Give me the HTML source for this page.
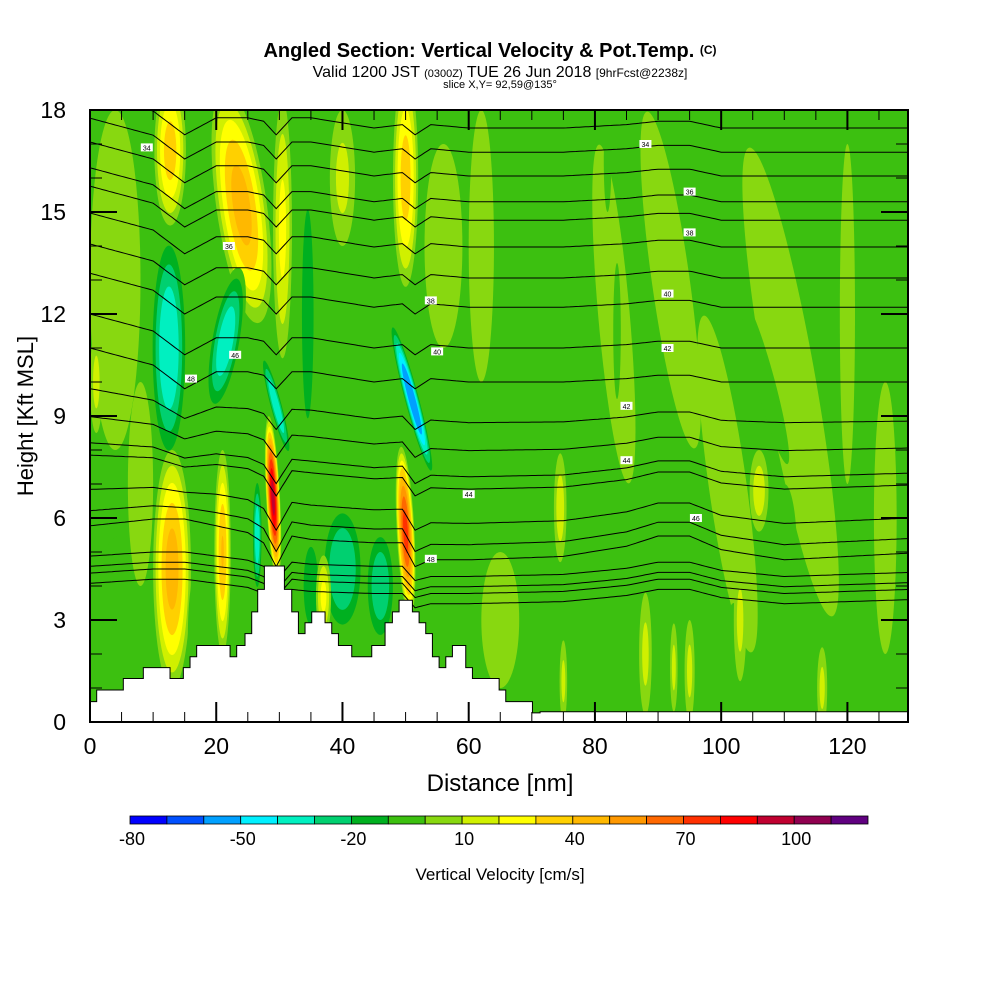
<!DOCTYPE html>
<html><head><meta charset="utf-8"><style>
body{margin:0;background:#fff;width:1000px;height:1000px;overflow:hidden;font-family:"Liberation Sans",sans-serif}
svg text{font-family:"Liberation Sans",sans-serif}
</style></head><body>
<svg id="chart" width="1000" height="1000" viewBox="0 0 1000 1000">
<defs><clipPath id="pc"><rect x="90" y="110" width="818" height="612"/></clipPath></defs>
<text x="490" y="57" text-anchor="middle" font-size="20" font-weight="bold">Angled Section: Vertical Velocity &amp; Pot.Temp. <tspan font-size="12" dy="-3">(C)</tspan></text>
<text x="500" y="77" text-anchor="middle" font-size="16">Valid 1200 JST <tspan font-size="11">(0300Z)</tspan> TUE 26 Jun 2018 <tspan font-size="12">[9hrFcst@2238z]</tspan></text>
<text x="500" y="88" text-anchor="middle" font-size="11">slice X,Y= 92,59@135°</text>
<g id="field" clip-path="url(#pc)"></g>
<g id="lines" clip-path="url(#pc)" fill="none" stroke="#000" stroke-width="1"></g>
<g id="terrain"></g>
<g id="labels"></g>
<g id="axes"></g>
<text x="500" y="791" text-anchor="middle" font-size="24">Distance [nm]</text>
<text transform="translate(33,416) rotate(-90)" text-anchor="middle" font-size="22">Height [Kft MSL]</text>
<g id="cbar"></g>
<text x="500" y="880" text-anchor="middle" font-size="17">Vertical Velocity [cm/s]</text>
</svg>
<script>
// ---- data ----
const xTicks=[0,20,40,60,80,100,120];
const yTicks=[0,3,6,9,12,15,18];
const cbarLabels=[-80,-50,-20,10,40,70,100];
const cbarColors=["#0000ff","#0050ff","#00a0ff","#00f0ff","#00f0c0","#00d070","#00b020","#3cc010","#88d810","#d0f000","#ffff00","#ffd000","#ffb800","#ff9800","#ff6800","#ff3000","#ff0000","#c00030","#900050","#600080"];
// terrain steps: start nm of each step and height kft
const terrStart=[0,1.06,5.28,8.45,12.68,14.79,15.85,16.9,22.19,23.24,24.56,25.62,26.57,27.63,30.8,31.96,33.02,34.07,35.13,37.24,38.3,39.36,41.47,44.64,46.75,47.91,48.97,51.08,52.14,53.19,54.25,55.31,56.37,57.42,59.53,60.59,64.82,65.87,70.1,71.31];
const terrHgt=[0.6,0.94,1.28,1.6,1.28,1.6,1.92,2.25,1.92,2.25,2.6,3.24,3.9,4.59,3.9,3.24,2.6,2.92,3.24,2.92,2.6,2.25,1.92,2.25,2.92,3.24,3.58,3.24,2.92,2.6,1.92,1.6,1.92,2.25,1.6,1.28,0.94,0.6,0.27,0.3];
// blobs: x nm, y kft, rx nm, ry kft, peak cm/s, tilt deg
const blobX=  [5,  45, 60, 70, 4,  56, 40, 40, 46, 35, 12.5,21.5,29.5,26.5,51, 34.5,107,82, 102,122,17, 12.7,24, 30.5,13, 21, 29, 50, 50, 37, 1,  106,74.5,83, 92, 101,111,120,126,88, 95, 103,116,75, 92.5,83.5,65, 110, 62, 8];
const blobY=  [2.5,11, 9,  11, 13, 14, 16, 4.5,4,  4,  11, 11.2,9.3, 5.5, 9.5,12, 10, 16.5,2, 3,  2.5,16.8,15.2,14.5,4.5,5,  6.6,5.6,16, 3.7,10, 6.8,6.3, 12, 13, 7,  10, 12, 6,  2,  1.5,3,  1,  1.2,1.6, 11.5,3,  5,   14, 7];
const blobRX= [5,  4,  3,  2,  4,  3,  2,  3.5,2.5,1.5,3,   2.5, 1,  0.8, 1.2,1.2,1.5,0.6,1.5,1,  1.5,2.5, 4,  1.5, 3,  1.3,1.1,1.4,2,  1.2,1,  1.5,1,   2.5,3,  3,  4,  1.2,1.8,1,  0.8,1,  0.8,0.6,0.6, 0.6, 3,  2,   2,  2];
const blobRY= [3,  3,  4,  3,  5,  3,  2,  2,  1.8,1.5,3.5, 2.2, 1.6,1.8, 2.4,4,  2.5,1.5,1.5,2,  2,  2.2, 3.5,3.8, 3.5,3,  2.4,2.5,3.2,1.2,1.5,1.2,1.6, 5,  5,  5,  7,  5,  4,  1.8,1.5,1.8,1.2,1.2,1.3, 2,   2,  2,   4,  3];
const blobV=  [-15,-15,-15,-15,5,  5,  15, -35,-32,-28,-45, -42, -45,-42, -68,-28,-18,-15,-15,-15,-15,38,  48, 25,  48, 42, 98, 78, 38, 25, 15, 18, 18,  5,  5,  5,  5,  5,  5,  15, 15, 15, 15, 15, 15,  -15, 5,  -15, 5,  5];
const blobT=  [0,  0,  0,  0,  0,  0,  0,  0,  0,  0,  0,   10,  -15,0,   -15,0,  -15,0,  0,  0,  0,  0,   -8, 0,   0,  0,  -3, -3, 0,  0,  0,  0,  0,   -5, -8, -8, -10,0,  0,  0,  0,  0,  0,  0,  0,   0,   0,  0,   0,  0];
// potential temperature lines: heights (kft) at right edge
const thetaLevels=[3.6,3.9,4.1,4.4,4.97,5.4,6.0,6.97,7.32,8.06,8.85,10.0,11.0,12.2,13.06,13.97,14.76,15.3,16.06,16.76,17.47,18.2,18.9];
const dispX=   [0,  10, 15,  20, 25, 27.5,29.5,32, 35, 45, 49.5,51.5,54,  60,  75, 85, 90, 95, 100,110,130];
const dispHigh=[1.0,0.5,-0.2,0.3,0.3,0.2, -0.2,0.3,0.3,0.0,0.1, -0.2,0.1, 0.0, 0.0,0.1,0.2,0.2,0.0,0.0,0.0];
const dispLow= [0.8,1.0,1.0, 0.8,0.6,0.3, -0.4,0.5,0.4,0.3,0.3, -0.4,-0.2,-0.2,-0.1,0.2,0.5,0.5,0.1,-0.2,0.0];
const labelVals=["34","36","38","40","42","44","46","48"];

// ---- axes functions ----
const X0=90,X1=908,Y0=722,Y1=110,NMAX=129.6,KMAX=18;
const sx=n=>X0+n*(X1-X0)/NMAX;
const sy=k=>Y0-k*(Y0-Y1)/KMAX;
const NS="http://www.w3.org/2000/svg";
function mk(t,a,p){const e=document.createElementNS(NS,t);for(const k in a)e.setAttribute(k,a[k]);p.appendChild(e);return e;}
function colorFor(v){let i=Math.floor((v+80)/10);i=Math.max(0,Math.min(19,i));return cbarColors[i];}

// ---- field ----
const field=document.getElementById('field');
const bg=mk('rect',{x:X0,y:Y1,width:X1-X0,height:Y0-Y1,fill:colorFor(-5)},field);


const order=blobX.map((_,i)=>i).sort((a,b)=>blobRX[b]*blobRY[b]-blobRX[a]*blobRY[a]);
order.forEach(i=>{
  const v=blobV[i];const cx=sx(blobX[i]),cy=sy(blobY[i]);
  const rx=blobRX[i]*(X1-X0)/NMAX, ry=blobRY[i]*(Y0-Y1)/KMAX;
  const g=mk('g',{transform:`rotate(${blobT[i]} ${cx} ${cy})`},field);
  
  
  const levels=[];
  if(v>0){for(let l=0;l<v;l+=10)levels.push(l);}else{for(let l=-10;l>=v;l-=10)levels.push(l);}
  levels.forEach(l=>{
    const f=v>0?(1-l/v):(1-(l+10)/v);
    const s=Math.pow(Math.max(f,0.02),0.6);
    mk('ellipse',{cx:cx,cy:cy,rx:rx*s,ry:ry*s,fill:colorFor(l+5)},g);
  });
});

// ---- theta lines ----
function interp(xs,ys,x){if(x<=xs[0])return ys[0];for(let i=1;i<xs.length;i++){if(x<=xs[i]){const t=(x-xs[i-1])/(xs[i]-xs[i-1]);return ys[i-1]+t*(ys[i]-ys[i-1]);}}return ys[ys.length-1];}
const lines=document.getElementById('lines');
thetaLevels.forEach((lv,j)=>{
  const w=Math.max(0,Math.min(1,(lv-5)/5));
  let d='';
  for(let n=0;n<=NMAX;n+=0.5){
    const dd=(1-w)*interp(dispX,dispLow,n)+w*interp(dispX,dispHigh,n);
    const amp=lv<4.5?0.6:1;
    d+=(n===0?'M':'L')+sx(n).toFixed(1)+','+sy(lv+dd*amp).toFixed(1);
  }
  const p=mk('path',{d:d},lines);
  
  
});

// ---- terrain ----
const terr=document.getElementById('terrain');
let td=`M${X0},${Y0}`;
terrStart.forEach((s,i)=>{const e=i<terrStart.length-1?terrStart[i+1]:NMAX;td+=`L${sx(s)},${sy(terrHgt[i])}L${sx(e)},${sy(terrHgt[i])}`;});
td+=`L${X1},${Y0}Z`;
const tp=mk('path',{d:td,fill:'#fff',stroke:'#000','stroke-width':1},terr);



// ---- contour labels ----
const labs=document.getElementById('labels');
const labPos=[[9,16.9],[22,14],[54,12.4],[55,10.9],[85,9.3],[85,7.7],[96,6.0],[54,4.8],[88,17],[95,15.6],[95,14.4],[91.5,12.6],[91.5,11.0],[60,6.7],[23,10.8],[16,10.1]];
labPos.forEach((p,i)=>{
  const g=mk('g',{},labs);
  
  
  mk('rect',{x:sx(p[0])-6,y:sy(p[1])-4,width:12,height:8,fill:'#fff'},g);
  const t=mk('text',{x:sx(p[0]),y:sy(p[1])+3,'font-size':7,'text-anchor':'middle'},g);
  t.textContent=labelVals[i%labelVals.length];
});

// ---- axes ----
const ax=document.getElementById('axes');
const fr=mk('rect',{x:X0,y:Y1,width:X1-X0,height:Y0-Y1,fill:'none',stroke:'#000','stroke-width':2},ax);


for(let k=0;k<=18;k++){
  const maj=k%3===0,L=maj?27:12,y=sy(k);
  mk('line',{x1:X0,x2:X0+L,y1:y,y2:y,stroke:'#000','stroke-width':maj?2:1},ax);
  mk('line',{x1:X1,x2:X1-L,y1:y,y2:y,stroke:'#000','stroke-width':maj?2:1},ax);
}
for(let n=0;n<=NMAX;n+=5){
  const maj=n%20===0,L=maj?20:10,x=sx(n);
  mk('line',{x1:x,x2:x,y1:Y0,y2:Y0-L,stroke:'#000','stroke-width':maj?2:1},ax);
  mk('line',{x1:x,x2:x,y1:Y1,y2:Y1+L,stroke:'#000','stroke-width':maj?2:1},ax);
}
yTicks.forEach(k=>{const t=mk('text',{x:66,y:sy(k)+8,'font-size':23,'text-anchor':'end'},ax);t.textContent=k;
  
  });
xTicks.forEach(n=>{const t=mk('text',{x:sx(n),y:754,'font-size':23,'text-anchor':'middle'},ax);t.textContent=n;
  
  });

// ---- colorbar ----
const cb=document.getElementById('cbar');
const CB0=130,CBW=(868-130)/20;
cbarColors.forEach((c,i)=>{
  const r=mk('rect',{x:CB0+i*CBW,y:816,width:CBW,height:8,fill:c,stroke:'#000','stroke-width':0.8},cb);
  
  
});
cbarLabels.forEach(v=>{
  const t=mk('text',{x:CB0+(v+80)/10*CBW+2,y:845,'font-size':18,'text-anchor':'middle'},cb);t.textContent=v;
  
  
});
</script>
</body></html>
